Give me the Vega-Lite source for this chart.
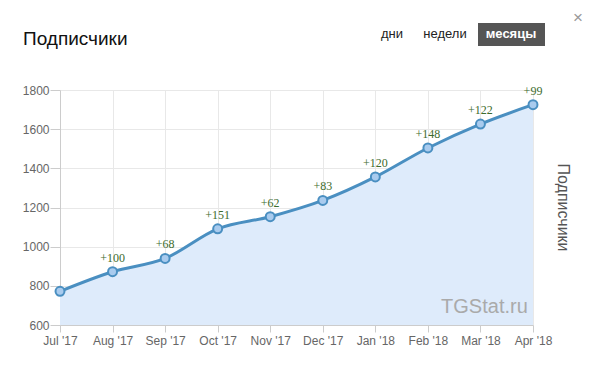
{
  "$schema": "https://vega.github.io/schema/vega-lite/v6.json",
  "width": 473,
  "height": 235,
  "autosize": {"type": "none"},
  "padding": {"left": 60, "top": 90, "right": 62, "bottom": 48},
  "background": "white",
  "title": {
    "text": "Подписчики",
    "anchor": "start",
    "frame": "group",
    "dx": -37,
    "offset": -40,
    "font": "Liberation Sans",
    "fontSize": 19,
    "fontWeight": "normal",
    "color": "#111111"
  },
  "config": {
    "view": {"stroke": null},
    "axis": {"labelFont": "Liberation Sans", "titleFont": "Liberation Sans"}
  },
  "data": {
    "values": [
      {"month": "Jul '17", "subs": 772, "delta": ""},
      {"month": "Aug '17", "subs": 872, "delta": "+100"},
      {"month": "Sep '17", "subs": 940, "delta": "+68"},
      {"month": "Oct '17", "subs": 1091, "delta": "+151"},
      {"month": "Nov '17", "subs": 1153, "delta": "+62"},
      {"month": "Dec '17", "subs": 1236, "delta": "+83"},
      {"month": "Jan '18", "subs": 1356, "delta": "+120"},
      {"month": "Feb '18", "subs": 1504, "delta": "+148"},
      {"month": "Mar '18", "subs": 1626, "delta": "+122"},
      {"month": "Apr '18", "subs": 1725, "delta": "+99"}
    ]
  },
  "encoding": {
    "x": {
      "field": "month",
      "type": "ordinal",
      "sort": null,
      "scale": {"type": "point", "padding": 0},
      "axis": {
        "title": null,
        "labelAngle": 0,
        "labelFontSize": 12,
        "labelColor": "#666666",
        "labelPadding": 3,
        "labelOverlap": false,
        "labelFlush": false,
        "tickSize": 7,
        "tickColor": "#cccccc",
        "domainColor": "#cccccc",
        "grid": true,
        "gridColor": "#e8e8e8"
      }
    },
    "y": {
      "field": "subs",
      "type": "quantitative",
      "scale": {"domain": [600, 1800], "nice": false, "zero": false},
      "axis": {
        "values": [600, 800, 1000, 1200, 1400, 1600, 1800],
        "format": "d",
        "title": "Подписчики",
        "titleAngle": 90,
        "titleX": 502,
        "titleY": 117,
        "titleFontSize": 16,
        "titleFontWeight": "normal",
        "titleColor": "#555555",
        "titleAlign": "center",
        "titleBaseline": "middle",
        "labelFontSize": 12,
        "labelColor": "#666666",
        "labelPadding": 1,
        "labelOverlap": false,
        "tickSize": 10,
        "tickColor": "#cccccc",
        "domainColor": "#cccccc",
        "grid": true,
        "gridColor": "#e8e8e8"
      }
    }
  },
  "layer": [
    {
      "mark": {"type": "area", "interpolate": "monotone", "color": "#deebfb"},
      "encoding": {"y2": {"datum": 600}}
    },
    {
      "transform": [{"filter": "datum.month == \"Mar '18\""}],
      "mark": {"type": "text", "text": "TGStat.ru", "font": "Liberation Sans", "fontSize": 20, "color": "#aaaaaa", "baseline": "middle", "align": "center", "dx": 4},
      "encoding": {"y": {"datum": 692}}
    },
    {"mark": {"type": "line", "interpolate": "monotone", "color": "#4a8fc1", "strokeWidth": 3}},
    {"mark": {"type": "point", "filled": true, "fill": "#a9cbee", "stroke": "#4a8fc1", "strokeWidth": 2, "size": 80, "opacity": 1}},
    {
      "mark": {"type": "text", "dy": -14, "font": "Liberation Serif", "fontSize": 12, "color": "#3d6b2c"},
      "encoding": {"text": {"field": "delta"}}
    },
    {
      "data": {"values": [{"b": "месяцы"}]},
      "mark": {"type": "rect", "color": "#555555"},
      "encoding": {"x": {"value": 418}, "x2": {"value": 485}, "y": {"value": -67}, "y2": {"value": -44}}
    },
    {
      "data": {"values": [{"b": "месяцы"}]},
      "mark": {"type": "text", "font": "Liberation Sans", "fontSize": 13, "fontWeight": "bold", "color": "#ffffff", "baseline": "middle", "align": "center"},
      "encoding": {"x": {"value": 451}, "y": {"value": -56}, "text": {"field": "b"}}
    },
    {
      "data": {"values": [{"b": "дни"}]},
      "mark": {"type": "text", "font": "Liberation Sans", "fontSize": 13, "color": "#222222", "baseline": "middle", "align": "center"},
      "encoding": {"x": {"value": 332}, "y": {"value": -56}, "text": {"field": "b"}}
    },
    {
      "data": {"values": [{"b": "недели"}]},
      "mark": {"type": "text", "font": "Liberation Sans", "fontSize": 13, "color": "#222222", "baseline": "middle", "align": "center"},
      "encoding": {"x": {"value": 385}, "y": {"value": -56}, "text": {"field": "b"}}
    },
    {
      "data": {"values": [{"b": "×"}]},
      "mark": {"type": "text", "font": "Liberation Sans", "fontSize": 17, "color": "#999999", "baseline": "middle", "align": "center"},
      "encoding": {"x": {"value": 518}, "y": {"value": -72}, "text": {"field": "b"}}
    }
  ]
}
